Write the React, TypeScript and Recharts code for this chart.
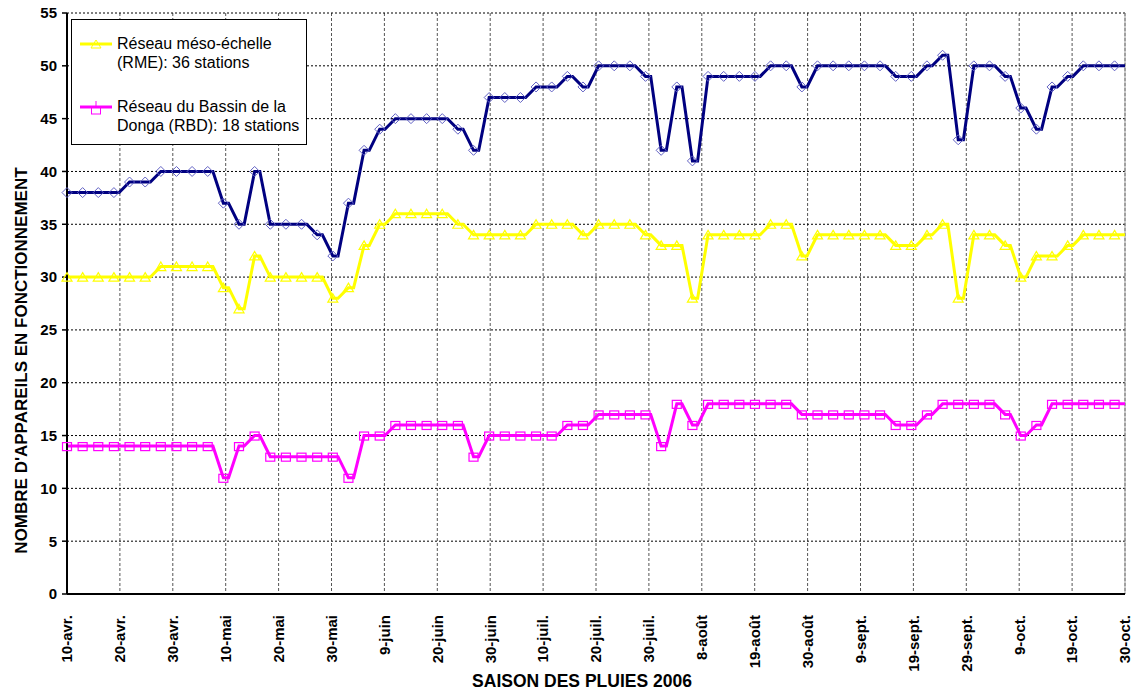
import { CartesianGrid, Legend, Line, LineChart, ReferenceLine, XAxis, YAxis } from "recharts";

const FONT = '"Liberation Sans", Arial, sans-serif';

// one reading every 3 days, starting 10 April 2006
const navyValues = [
  38, 38, 38, 38, 39, 39, 40, 40, 40, 40,
  37, 35, 40, 35, 35, 35, 34, 32, 37, 42,
  44, 45, 45, 45, 45, 44, 42, 47, 47, 47,
  48, 48, 49, 48, 50, 50, 50, 49, 42, 48,
  41, 49, 49, 49, 49, 50, 50, 48, 50, 50,
  50, 50, 50, 49, 49, 50, 51, 43, 50, 50,
  49, 46, 44, 48, 49, 50, 50, 50,
];

const rmeValues = [
  30, 30, 30, 30, 30, 30, 31, 31, 31, 31,
  29, 27, 32, 30, 30, 30, 30, 28, 29, 33,
  35, 36, 36, 36, 36, 35, 34, 34, 34, 34,
  35, 35, 35, 34, 35, 35, 35, 34, 33, 33,
  28, 34, 34, 34, 34, 35, 35, 32, 34, 34,
  34, 34, 34, 33, 33, 34, 35, 28, 34, 34,
  33, 30, 32, 32, 33, 34, 34, 34,
];

const rbdValues = [
  14, 14, 14, 14, 14, 14, 14, 14, 14, 14,
  11, 14, 15, 13, 13, 13, 13, 13, 11, 15,
  15, 16, 16, 16, 16, 16, 13, 15, 15, 15,
  15, 15, 16, 16, 17, 17, 17, 17, 14, 18,
  16, 18, 18, 18, 18, 18, 18, 17, 17, 17,
  17, 17, 17, 16, 16, 17, 18, 18, 18, 18,
  17, 15, 16, 18, 18, 18, 18, 18,
];

const TICK_LABELS = [
  "10-avr.", "20-avr.", "30-avr.", "10-mai", "20-mai", "30-mai", "9-juin",
  "20-juin", "30-juin", "10-juil.", "20-juil.", "30-juil.", "8-août", "19-août",
  "30-août", "9-sept.", "19-sept.", "29-sept.", "9-oct.", "19-oct.", "30-oct.",
];

const Y_TICKS = [0, 5, 10, 15, 20, 25, 30, 35, 40, 45, 50, 55];
const MINOR_TICKS = Array.from({ length: 56 }, (_, i) => i);

const STEP = 3; // days between readings
const LAST_DAY = 203; // 30 October

// each reading holds for a day, then the line moves to the next one
const rows: any[] = [];
navyValues.forEach((v, k) => {
  const day = k * STEP;
  const row = { navy: v, rme: rmeValues[k], rbd: rbdValues[k] };
  rows.push({ day, ...row, mark: true });
  rows.push({ day: k === navyValues.length - 1 ? LAST_DAY : day + 1, ...row, mark: false });
});

const tickDays = TICK_LABELS.map((_, i) => (i * LAST_DAY) / (TICK_LABELS.length - 1));

function diamondDot(props: any) {
  const { cx, cy, payload, index } = props;
  if (!payload.mark) return <g key={`n${index}`} />;
  return (
    <path key={`n${index}`} d={`M${cx},${cy - 5}L${cx + 5},${cy}L${cx},${cy + 5}L${cx - 5},${cy}Z`}
      fill="none" stroke="#6262c4" strokeWidth={1} />
  );
}

function triangleDot(props: any) {
  const { cx, cy, payload, index } = props;
  if (!payload.mark) return <g key={`t${index}`} />;
  return (
    <path key={`t${index}`} d={`M${cx},${cy - 4.5}L${cx + 5},${cy + 4}L${cx - 5},${cy + 4}Z`}
      fill="none" stroke="#ffff00" strokeWidth={1.2} />
  );
}

function squareDot(props: any) {
  const { cx, cy, payload, index } = props;
  if (!payload.mark) return <g key={`s${index}`} />;
  return <rect key={`s${index}`} x={cx - 4.5} y={cy - 3.5} width={9} height={8} fill="none" stroke="#ff00ff" strokeWidth={1.2} />;
}

function DateTick({ x, y, index }: any) {
  return (
    <text x={x} y={y + 13} transform={`rotate(-90, ${x}, ${y + 13})`} textAnchor="end" dy="0.36em"
      fontFamily={FONT} fontSize={15} fontWeight="bold" fill="#000">
      {TICK_LABELS[index]}
    </text>
  );
}

const legendItems = [
  { lines: ["Réseau méso-échelle", "(RME): 36 stations"], color: "#ffff00", shape: "triangle", top: 15 },
  { lines: ["Réseau du Bassin de la", "Donga (RBD): 18 stations"], color: "#ff00ff", shape: "square", top: 78 },
];

function LegendBox() {
  return (
    <div style={{ position: "relative", width: 236, height: 126, boxSizing: "border-box", border: "1px solid #000",
      background: "#fff", fontFamily: FONT, fontSize: 16, lineHeight: "18.5px", color: "#000" }}>
      {legendItems.map((it) => (
        <div key={it.color} style={{ position: "absolute", left: 0, top: it.top }}>
          <svg width={44} height={18} style={{ position: "absolute", left: 6, top: 0 }}>
            <line x1={2} y1={9} x2={34} y2={9} stroke={it.color} strokeWidth={3} />
            {it.shape === "triangle" ? (
              <path d="M18,5L23,13L13,13Z" fill="none" stroke={it.color} strokeWidth={1} />
            ) : (
              <g>
                <rect x={13.5} y={9} width={9} height={7} fill="none" stroke={it.color} strokeWidth={1} />
                <line x1={18} y1={3} x2={18} y2={9} stroke={it.color} strokeWidth={1} />
              </g>
            )}
          </svg>
          <div style={{ position: "absolute", left: 45, top: 0, whiteSpace: "nowrap" }}>
            {it.lines.map((l) => <div key={l}>{l}</div>)}
          </div>
        </div>
      ))}
    </div>
  );
}

export default function App() {
  return (
    <div style={{ position: "absolute", left: 0, top: 0, background: "#fff" }}>
      <LineChart width={1137} height={690} data={rows} margin={{ top: 13, right: 12, bottom: 0, left: 0 }}>
        <CartesianGrid horizontal={false} stroke="#555" strokeDasharray="3 2" />
        <CartesianGrid vertical={false} stroke="#000" strokeDasharray="2 2" />
        <XAxis dataKey="day" type="number" domain={[0, LAST_DAY]} ticks={tickDays} interval={0} height={96}
          tick={<DateTick />} tickLine={false} axisLine={{ stroke: "#000", strokeWidth: 2 }}
          label={{ value: "SAISON DES PLUIES 2006", position: "insideBottom", offset: 3, dx: -14,
            style: { fontFamily: FONT, fontSize: 17.5, fontWeight: "bold", fill: "#000" } }} />
        <YAxis domain={[0, 55]} ticks={Y_TICKS} interval={0} width={67} tickSize={5} tickMargin={5}
          axisLine={{ stroke: "#000", strokeWidth: 2 }} tickLine={{ stroke: "#000", strokeWidth: 1.5 }}
          tick={{ fontFamily: FONT, fontSize: 15, fontWeight: "bold", fill: "#000" }}
          label={{ value: "NOMBRE D'APPAREILS EN FONCTIONNEMENT", angle: -90, position: "center", dx: -13, dy: 57,
            style: { fontFamily: FONT, fontSize: 17, fontWeight: "bold", fill: "#000" } }} />
        <YAxis yAxisId="minor" domain={[0, 55]} ticks={MINOR_TICKS} interval={0} mirror tick={false}
          tickSize={3} axisLine={false} tickLine={{ stroke: "#000" }} />
        <ReferenceLine x={LAST_DAY} stroke="#999" />
        <Legend layout="vertical" align="center" verticalAlign="middle" content={() => <LegendBox />}
          wrapperStyle={{ left: 71, top: 19, width: 236, height: 126 }} />
        <Line dataKey="navy" stroke="#000080" strokeWidth={3} dot={diamondDot} activeDot={false}
          legendType="none" isAnimationActive={false} />
        <Line dataKey="rme" stroke="#ffff00" strokeWidth={3} dot={triangleDot} activeDot={false}
          isAnimationActive={false} />
        <Line dataKey="rbd" stroke="#ff00ff" strokeWidth={3} dot={squareDot} activeDot={false}
          isAnimationActive={false} />
      </LineChart>
    </div>
  );
}
